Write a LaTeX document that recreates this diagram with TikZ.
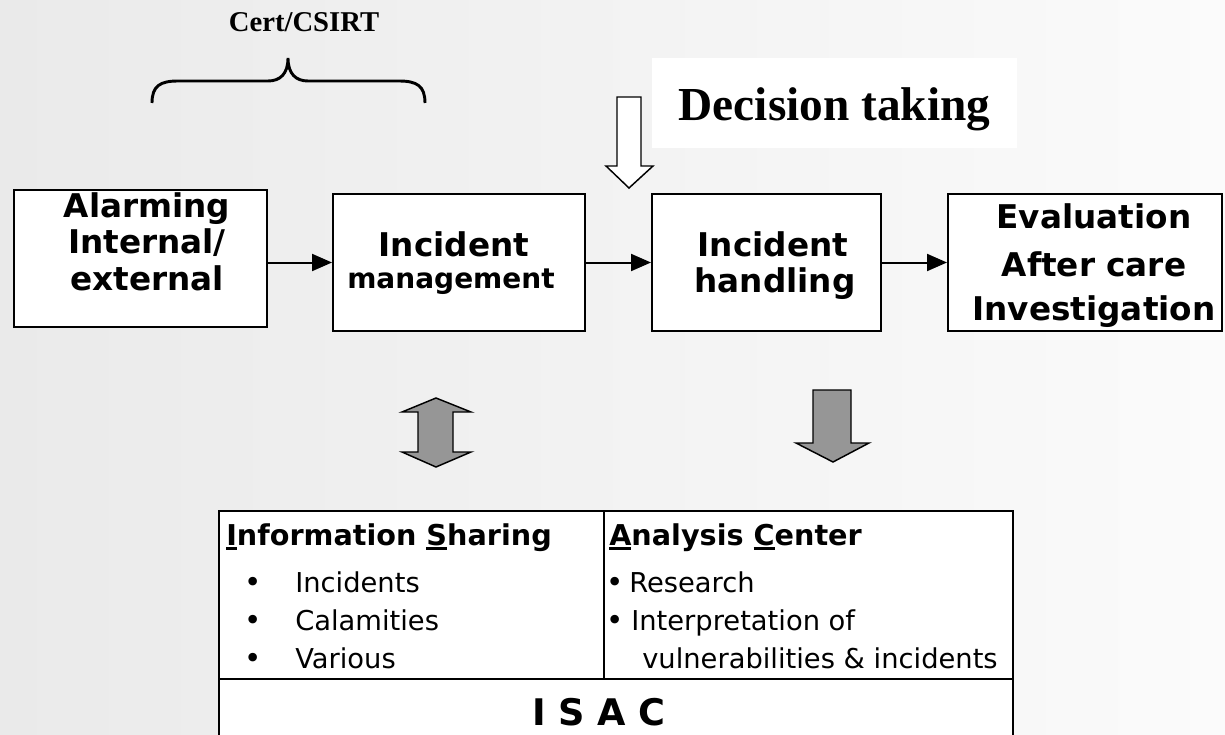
\documentclass[tikz,border=0pt]{standalone}
\usepackage{fontspec}
\setmainfont{DejaVu Sans}
\newfontfamily\tms{Liberation Serif}
\usetikzlibrary{arrows.meta}
\definecolor{bgl}{RGB}{234,234,234}
\definecolor{bgr}{RGB}{251,251,251}
\definecolor{arrgray}{RGB}{150,150,150}
\newcommand{\ulc}[1]{\setbox0\hbox{#1}\rlap{\rule[-3.6pt]{\wd0}{1.8pt}}#1}
\begin{document}
\begin{tikzpicture}[x=0.75pt,y=-0.75pt,
  box/.style={draw=black, line width=1.5pt, fill=white, inner sep=0, minimum height=137*0.75pt},
  cell/.style={draw=black, line width=1.5pt, fill=white, inner sep=0},
  bx/.style={font=\fontsize{24.5}{28}\selectfont\bfseries, inner sep=0, anchor=base},
  sm/.style={font=\fontsize{21}{24}\selectfont\bfseries, inner sep=0, anchor=base},
  hd/.style={font=\fontsize{21.5}{24}\selectfont\bfseries, inner sep=0, anchor=base west},
  li/.style={font=\fontsize{20.5}{24}\selectfont, inner sep=0, anchor=base west},
  bul/.style={font=\fontsize{22}{24}\selectfont, inner sep=0, anchor=base},
  conn/.style={line width=1.5pt, -{Triangle[length=15pt,width=12.75pt]}},
  blockarrow/.style={draw=black, line width=1.1pt, fill=arrgray, line join=miter}
]
\useasboundingbox (0,0) rectangle (1225,735);
\begin{scope}
\clip (0,0) rectangle (1225,735);
\shade[left color=bgl, right color=bgr] (0,0) rectangle (1225,735);

% Cert/CSIRT and brace
\node[font=\tms\bfseries\fontsize{21.5}{24}\selectfont, inner sep=0, anchor=base] (cert) at (304,32) {Cert/CSIRT};
\draw[line width=2.2pt] (152,103) .. controls (152,86) and (160,81) .. (178,81) -- (268,81)
  .. controls (280,81) and (288,74) .. (288,58)
  .. controls (288,74) and (296,81) .. (308,81) -- (399,81)
  .. controls (417,81) and (425,86) .. (425,103);

% Decision taking
\node[fill=white, inner sep=0, minimum width=365*0.75pt, minimum height=90*0.75pt,
  font=\tms\bfseries\fontsize{35.5}{40}\selectfont, text height=33pt, text depth=7.5pt] (dec) at (834.5,103) {Decision taking};
\draw[line width=1.1pt, fill=white, line join=miter] (617,97) -- (641,97) -- (641,166) -- (653,166) -- (629,188) -- (606,166) -- (617,166) -- cycle;

% process boxes
\node[box, minimum width=253*0.75pt] (alarm) at (140.5,258.5) {};
\node[box, minimum width=252*0.75pt] (mgmt) at (459,262.5) {};
\node[box, minimum width=229*0.75pt] (hand) at (766.5,262.5) {};
\node[box, minimum width=274*0.75pt] (eval) at (1085,262.5) {};

\node[bx] (t1) at (147,217) {Alarming};
\node[bx] (t2) at (147,253) {Internal/};
\node[bx] (t3) at (147,290) {external};
\node[bx] (t4) at (454,256) {Incident};
\node[sm] (t5) at (451,288) {management};
\node[bx] (t6) at (773,256) {Incident};
\node[bx] (t7) at (775,292) {handling};
\node[bx] (t8) at (1094,228) {Evaluation};
\node[bx] (t9) at (1094,276) {After care};
\node[bx] (t10) at (1094,320) {Investigation};

\draw[conn] (alarm.east |- mgmt.west) -- (mgmt.west);
\draw[conn] (mgmt.east) -- (hand.west);
\draw[conn] (hand.east) -- (eval.west);

% block arrows
\draw[blockarrow] (436,398) -- (471,412) -- (453,412) -- (453,452) -- (471,452) -- (436,467)
  -- (402,452) -- (418,452) -- (418,412) -- (402,412) -- cycle;
\draw[blockarrow] (813,390) -- (851,390) -- (851,443) -- (869,443) -- (833,462) -- (796,443) -- (813,443) -- cycle;

% ISAC table
\node[cell, minimum width=385*0.75pt, minimum height=168*0.75pt] (is) at (411.5,595) {};
\node[cell, minimum width=409*0.75pt, minimum height=168*0.75pt] (ac) at (808.5,595) {};
\node[cell, minimum width=794*0.75pt, minimum height=122*0.75pt] (isac) at (616,740) {};

\node[hd] (ish) at (226,545) {\ulc{I}nformation \ulc{S}haring};
\node[bul] (b1) at (253,592) {•};
\node[li] (l1) at (295,592) {Incidents};
\node[bul] (b2) at (253,630) {•};
\node[li] (l2) at (295,630) {Calamities};
\node[bul] (b3) at (253,668) {•};
\node[li] (l3) at (295,668) {Various};

\node[hd] (ach) at (609,545) {\ulc{A}nalysis \ulc{C}enter};
\node[bul] (b4) at (615,592) {•};
\node[li] (l4) at (629,592) {Research};
\node[bul] (b5) at (615,630) {•};
\node[li] (l5) at (631,630) {Interpretation of};
\node[li] (l6) at (642,668) {vulnerabilities \& incidents};

\node[font=\fontsize{27.5}{30}\selectfont\bfseries, inner sep=0, anchor=base] (isact) at (599,725) {I S A C};
\end{scope}
\end{tikzpicture}
\end{document}
